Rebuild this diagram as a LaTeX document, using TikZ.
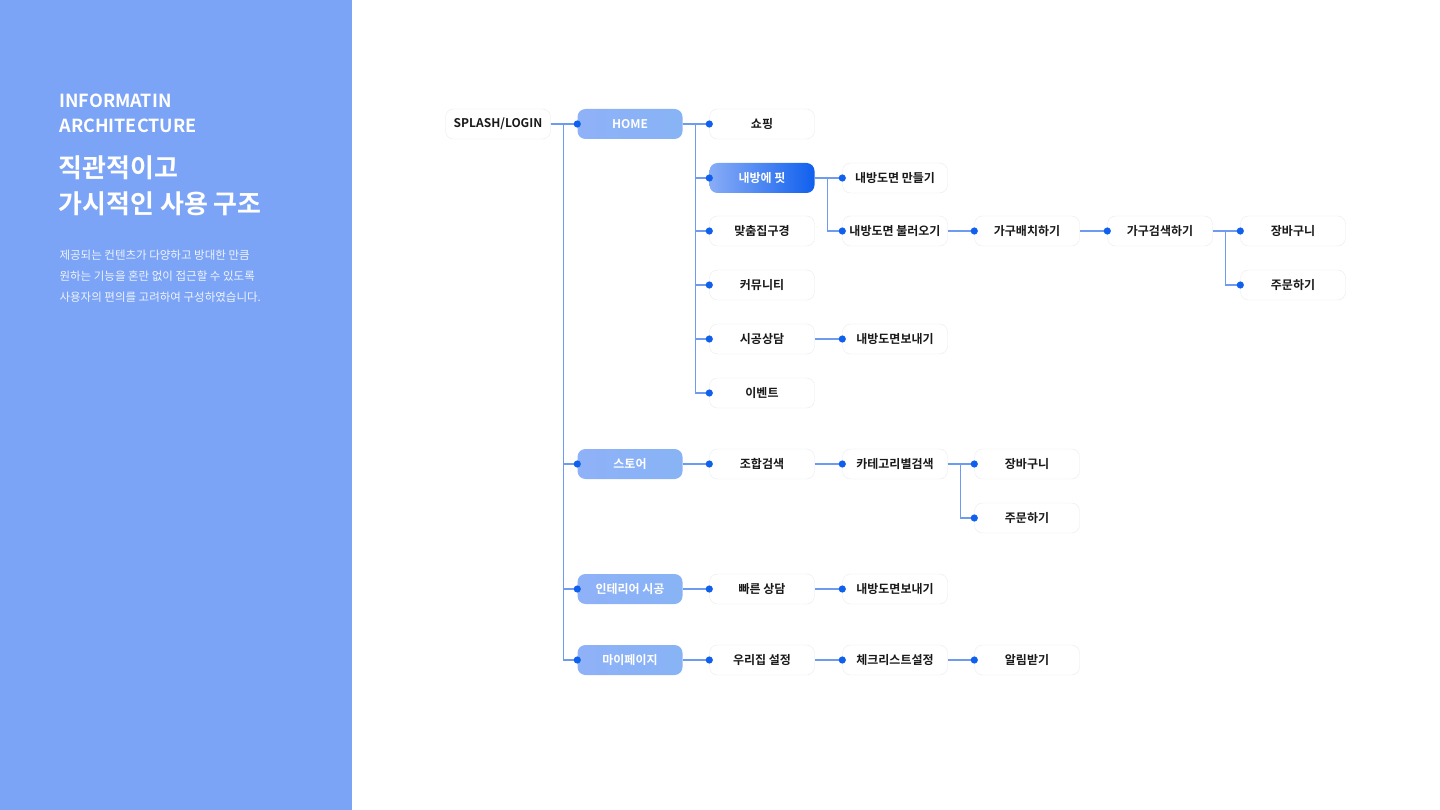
\documentclass[tikz,border=0pt]{standalone}
\usepackage{fontspec}
\setmainfont{Noto Sans CJK KR}
\newfontfamily\krb{Noto Sans CJK KR Bold}
\usetikzlibrary{positioning}
\definecolor{panel}{HTML}{7BA3F6}
\definecolor{linkc}{HTML}{6E9BF0}
\definecolor{dotc}{HTML}{1060EE}
\tikzset{
  box/.style={draw=black!8, fill=white, rounded corners=8pt, minimum width=105pt,
    minimum height=30pt, font=\krb\fontsize{12}{12}\selectfont, text=black!90},
  mainbox/.style={box, draw=none, left color=panel!85, right color=panel!110!blue, text=white},
  hotbox/.style={box, draw=none, left color=panel!90, right color=dotc, text=white},
}
\newcommand{\link}[3][13]{%
  \draw[linkc, line width=1.1pt] (#2.east) -- ++(#1,0) |- (#3.west);
  \fill[dotc] (#3.west) circle (3.6pt);}
\begin{document}
\begin{tikzpicture}[x=1pt,y=-1pt]
  \useasboundingbox (0,0) rectangle (1440,810);
  \fill[panel] (0,0) rectangle (352,810);
  % left panel text
  \node[anchor=north west, align=left, text=white, font=\krb\fontsize{18}{25}\selectfont]
    (ia) at (56,90) {INFORMATIN\\ARCHITECTURE};
  \node[anchor=north west, align=left, text=white, font=\krb\fontsize{26}{36}\selectfont]
    (title) at (55,152) {직관적이고\\가시적인 사용 구조};
  \node[anchor=north west, align=left, text=white!88!panel, font=\fontsize{11.5}{21}\selectfont]
    (desc) at (56,246) {제공되는 컨텐츠가 다양하고 방대한 만큼\\원하는 기능을 혼란 없이 접근할 수 있도록\\사용자의 편의를 고려하여 구성하였습니다.};

  % nodes
  \node[box] (splash) at (498,124) {SPLASH/LOGIN};
  \node[mainbox] (home) at (630,124) {HOME};
  \node[mainbox] (store) at (630,464) {스토어};
  \node[mainbox] (interior) at (630,589) {인테리어 시공};
  \node[mainbox] (mypage) at (630,660) {마이페이지};

  \node[box] (shop) at (762,124) {쇼핑};
  \node[hotbox] (fit) at (762,178) {내방에 핏};
  \node[box] (custom) at (762,231) {맞춤집구경};
  \node[box] (community) at (762,285) {커뮤니티};
  \node[box] (consult) at (762,339) {시공상담};
  \node[box] (event) at (762,393) {이벤트};

  \node[box] (makeplan) at (895,178) {내방도면 만들기};
  \node[box] (loadplan) at (895,231) {내방도면 불러오기};
  \node[box] (arrange) at (1027,231) {가구배치하기};
  \node[box] (search) at (1160,231) {가구검색하기};
  \node[box] (cart) at (1293,231) {장바구니};
  \node[box] (order) at (1293,285) {주문하기};
  \node[box] (sendplan) at (895,339) {내방도면보내기};

  \node[box] (combo) at (762,464) {조합검색};
  \node[box] (category) at (895,464) {카테고리별검색};
  \node[box] (cart2) at (1027,464) {장바구니};
  \node[box] (order2) at (1027,518) {주문하기};

  \node[box] (quick) at (762,589) {빠른 상담};
  \node[box] (sendplan2) at (895,589) {내방도면보내기};

  \node[box] (homeset) at (762,660) {우리집 설정};
  \node[box] (checklist) at (895,660) {체크리스트설정};
  \node[box] (alarm) at (1027,660) {알림받기};

  % connectors
  \foreach \c in {home,store,interior,mypage} {\link{splash}{\c}}
  \foreach \c in {shop,fit,custom,community,consult,event} {\link{home}{\c}}
  \foreach \c in {makeplan,loadplan} {\link{fit}{\c}}
  \link{loadplan}{arrange}
  \link{arrange}{search}
  \foreach \c in {cart,order} {\link{search}{\c}}
  \link{consult}{sendplan}
  \link{store}{combo}
  \link{combo}{category}
  \foreach \c in {cart2,order2} {\link{category}{\c}}
  \link{interior}{quick}
  \link{quick}{sendplan2}
  \link{mypage}{homeset}
  \link{homeset}{checklist}
  \link{checklist}{alarm}
\end{tikzpicture}
\end{document}
